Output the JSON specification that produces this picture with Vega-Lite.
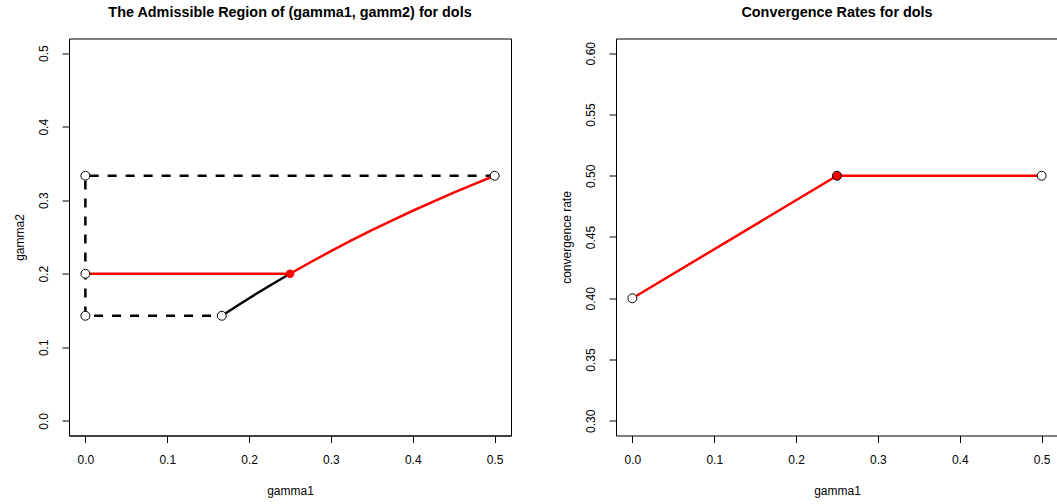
{
  "$schema": "https://vega.github.io/schema/vega-lite/v6.json",
  "background": "white",
  "padding": {"left": 12, "top": 4.5, "right": 0, "bottom": 0},
  "bounds": "flush",
  "spacing": 105,
  "datasets": {
    "boundary": [
      {"gamma1": 0.5, "gamma2": 0.333333, "o": 1},
      {"gamma1": 0.0, "gamma2": 0.333333, "o": 2},
      {"gamma1": 0.0, "gamma2": 0.142857, "o": 3},
      {"gamma1": 0.166667, "gamma2": 0.142857, "o": 4}
    ],
    "lowerCurve": [
      {"gamma1": 0.166667, "gamma2": 0.142857, "o": 1},
      {"gamma1": 0.1875, "gamma2": 0.157895, "o": 2},
      {"gamma1": 0.208333, "gamma2": 0.172414, "o": 3},
      {"gamma1": 0.229167, "gamma2": 0.186441, "o": 4},
      {"gamma1": 0.25, "gamma2": 0.2, "o": 5}
    ],
    "optimalPath": [
      {"gamma1": 0.0, "gamma2": 0.2, "o": 1},
      {"gamma1": 0.25, "gamma2": 0.2, "o": 2},
      {"gamma1": 0.275, "gamma2": 0.215686, "o": 3},
      {"gamma1": 0.3, "gamma2": 0.230769, "o": 4},
      {"gamma1": 0.325, "gamma2": 0.245283, "o": 5},
      {"gamma1": 0.35, "gamma2": 0.259259, "o": 6},
      {"gamma1": 0.375, "gamma2": 0.272727, "o": 7},
      {"gamma1": 0.4, "gamma2": 0.285714, "o": 8},
      {"gamma1": 0.425, "gamma2": 0.298246, "o": 9},
      {"gamma1": 0.45, "gamma2": 0.310345, "o": 10},
      {"gamma1": 0.475, "gamma2": 0.322034, "o": 11},
      {"gamma1": 0.5, "gamma2": 0.333333, "o": 12}
    ],
    "corners": [
      {"gamma1": 0.0, "gamma2": 0.333333},
      {"gamma1": 0.5, "gamma2": 0.333333},
      {"gamma1": 0.0, "gamma2": 0.2},
      {"gamma1": 0.0, "gamma2": 0.142857},
      {"gamma1": 0.166667, "gamma2": 0.142857}
    ],
    "optimum": [
      {"gamma1": 0.25, "gamma2": 0.2}
    ],
    "rate": [
      {"gamma1": 0.0, "rate": 0.4, "o": 1},
      {"gamma1": 0.25, "rate": 0.5, "o": 2},
      {"gamma1": 0.5, "rate": 0.5, "o": 3}
    ],
    "rateEnds": [
      {"gamma1": 0.0, "rate": 0.4},
      {"gamma1": 0.5, "rate": 0.5}
    ],
    "rateBest": [
      {"gamma1": 0.25, "rate": 0.5}
    ]
  },
  "config": {
    "font": "Liberation Sans",
    "view": {"stroke": "black", "strokeWidth": 1},
    "axis": {
      "grid": false,
      "domain": true,
      "domainColor": "black",
      "domainWidth": 1,
      "tickColor": "black",
      "tickSize": 7,
      "tickWidth": 1,
      "labelFont": "Liberation Sans",
      "labelFontSize": 12,
      "labelColor": "black",
      "labelPadding": 12,
      "titleFont": "Liberation Sans",
      "titleFontSize": 12,
      "titleFontWeight": "normal",
      "titleColor": "black"
    },
    "axisX": {"titlePadding": 20},
    "axisY": {"labelAngle": -90, "labelAlign": "center", "labelBaseline": "bottom", "titlePadding": 11},
    "title": {"font": "Liberation Sans", "fontSize": 14.4, "fontWeight": "bold", "color": "black", "anchor": "middle", "offset": 18}
  },
  "hconcat": [
    {
      "title": "The Admissible Region of (gamma1, gamm2) for dols",
      "width": 442,
      "height": 397,
      "encoding": {
        "x": {"field": "gamma1", "type": "quantitative", "title": "gamma1",
              "scale": {"domain": [-0.02, 0.52], "nice": false, "zero": false},
              "axis": {"values": [0, 0.1, 0.2, 0.3, 0.4, 0.5], "format": ".1f"}},
        "y": {"field": "gamma2", "type": "quantitative", "title": "gamma2",
              "scale": {"domain": [-0.02, 0.52], "nice": false, "zero": false},
              "axis": {"values": [0, 0.1, 0.2, 0.3, 0.4, 0.5], "format": ".1f"}}
      },
      "layer": [
        {"data": {"name": "boundary"},
         "mark": {"type": "line", "color": "black", "strokeWidth": 2.5, "strokeDash": [9, 9], "strokeCap": "butt"},
         "encoding": {"order": {"field": "o"}}},
        {"data": {"name": "lowerCurve"},
         "mark": {"type": "line", "color": "black", "strokeWidth": 2.5},
         "encoding": {"order": {"field": "o"}}},
        {"data": {"name": "optimalPath"},
         "mark": {"type": "line", "color": "red", "strokeWidth": 2.5},
         "encoding": {"order": {"field": "o"}}},
        {"data": {"name": "corners"},
         "mark": {"type": "point", "shape": "circle", "filled": true, "fill": "white", "stroke": "black", "strokeWidth": 1, "size": 80, "opacity": 1}},
        {"data": {"name": "optimum"},
         "mark": {"type": "point", "shape": "circle", "filled": true, "fill": "red", "strokeWidth": 0, "size": 75, "opacity": 1}}
      ]
    },
    {
      "title": "Convergence Rates for dols",
      "width": 442,
      "height": 397,
      "view": {"stroke": null},
      "resolve": {"axis": {"x": "independent"}},
      "layer": [
        {"data": {"name": "rate"},
         "mark": {"type": "line", "color": "red", "strokeWidth": 2.5},
         "encoding": {
           "x": {"field": "gamma1", "type": "quantitative", "title": "gamma1",
                 "scale": {"domain": [-0.02, 0.52], "nice": false, "zero": false},
                 "axis": {"values": [0, 0.1, 0.2, 0.3, 0.4, 0.5], "format": ".1f"}},
           "y": {"field": "rate", "type": "quantitative", "title": "convergence rate",
                 "scale": {"domain": [0.288, 0.612], "nice": false, "zero": false},
                 "axis": {"values": [0.3, 0.35, 0.4, 0.45, 0.5, 0.55, 0.6], "format": ".2f"}},
           "order": {"field": "o"}
         }},
        {"data": {"name": "rateEnds"},
         "mark": {"type": "point", "shape": "circle", "filled": true, "fill": "white", "stroke": "black", "strokeWidth": 1, "size": 80, "opacity": 1},
         "encoding": {
           "x": {"field": "gamma1", "type": "quantitative",
                 "axis": {"orient": "top", "labels": false, "ticks": false, "title": null, "domain": true}},
           "y": {"field": "rate", "type": "quantitative"}
         }},
        {"data": {"name": "rateBest"},
         "mark": {"type": "point", "shape": "circle", "filled": true, "fill": "red", "stroke": "black", "strokeWidth": 1, "size": 80, "opacity": 1},
         "encoding": {
           "x": {"field": "gamma1", "type": "quantitative", "axis": null},
           "y": {"field": "rate", "type": "quantitative"}
         }}
      ]
    }
  ]
}
